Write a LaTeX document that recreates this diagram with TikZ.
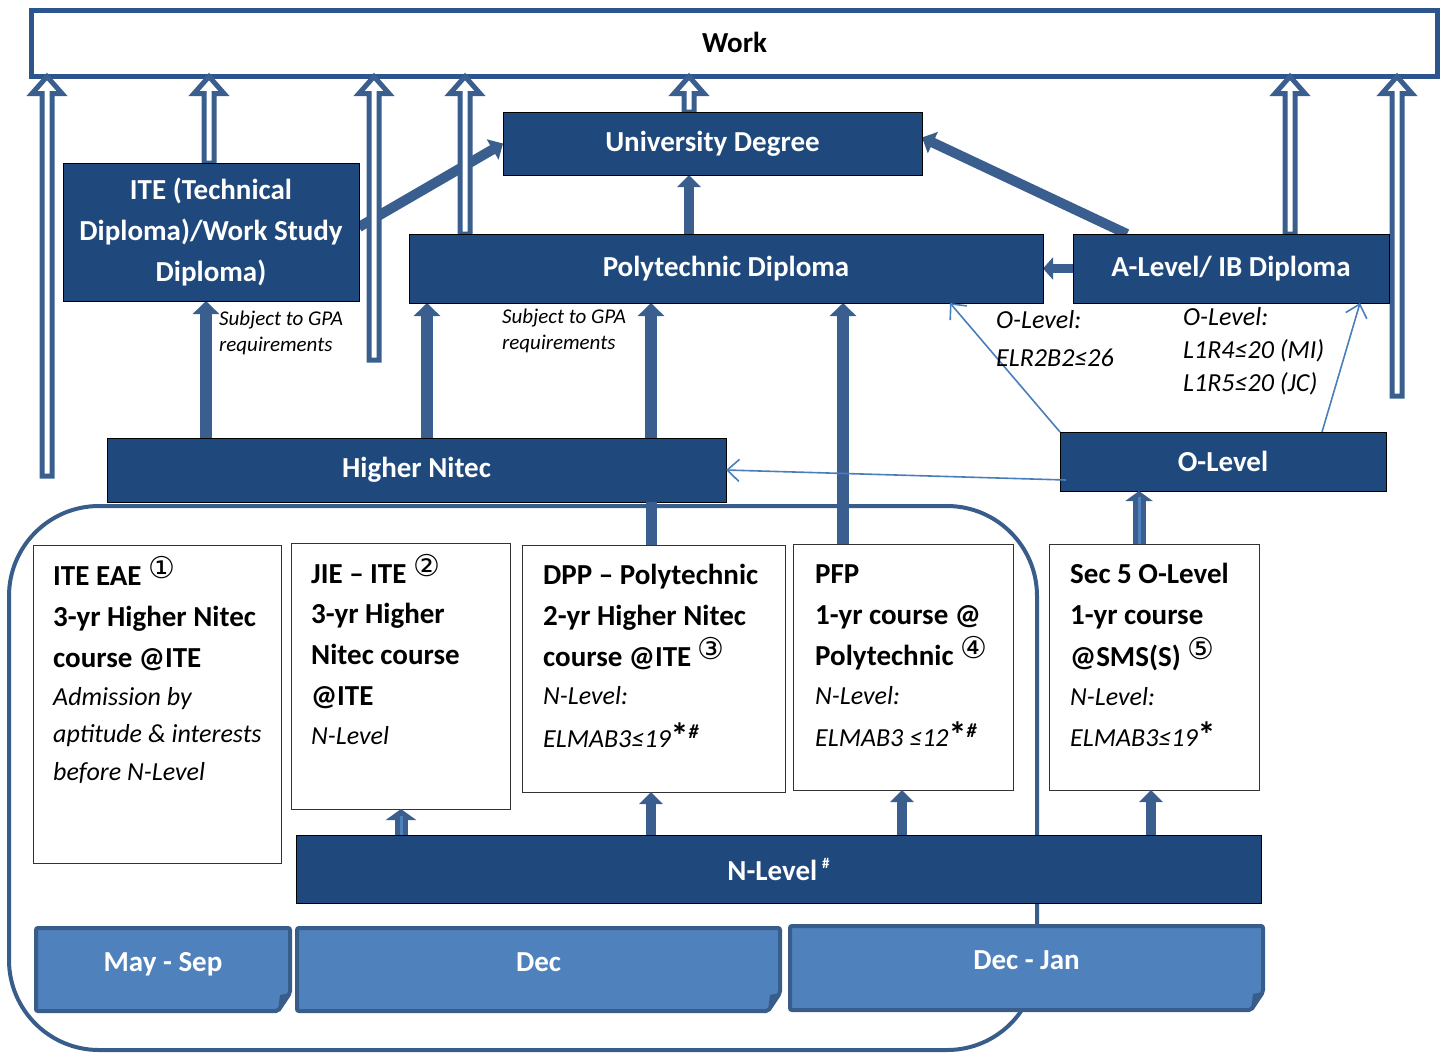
\documentclass[tikz,border=0pt]{standalone}
\usepackage{fontspec}
\setmainfont{Carlito}
\newfontfamily\symfont{DejaVu Sans}
\usetikzlibrary{arrows.meta,calc}
\definecolor{darkb}{HTML}{1F497D}
\definecolor{arrowc}{HTML}{3A5F8F}
\definecolor{tabfill}{HTML}{4F81BD}
\definecolor{tabline}{HTML}{385D8A}
\definecolor{thinc}{HTML}{4A7EBB}
\definecolor{workc}{HTML}{2B558C}
\newcommand\mycirc[1]{\raisebox{7pt}{\normalfont\symfont\fontsize{30}{30}\selectfont #1}}
\newcommand\mystar{\raisebox{-1pt}{\normalfont\bfseries\fontsize{36}{36}\selectfont *}}
\newcommand\mysup[1]{\mystar\raisebox{9pt}{\normalfont\bfseries\itshape\fontsize{20}{20}\selectfont #1}}
\newcommand\hollowarrow[2]{\draw[hollow] let \p1=(#1), \p2=(#2) in
  (\x1-5pt,\y1) -- (\x1-5pt,\y2-17pt) -- (\x1-15pt,\y2-17pt) -- (\x1,\y2) --
  (\x1+15pt,\y2-17pt) -- (\x1+5pt,\y2-17pt) -- (\x1+5pt,\y1) -- cycle;}
\newcommand\tabbox[6]{%
  \draw[tabshape] (#1,#2) -- (#3,#2) -- (#3,#4-18) -- (#3-12,#4) -- (#1,#4) -- cycle;
  \fill[tabline] (#3,#4-18) -- (#3-12,#4) -- (#3-10,#4-16) -- cycle;
  \node[tabtext, anchor=base] (#5) at ({(#1+#3)/2},{#2+43}) {#6};}
\begin{document}
\begin{tikzpicture}[x=1pt,y=-1pt,
  dbox/.style={draw=black, line width=1pt, fill=darkb, text=white,
    font=\bfseries\fontsize{29}{41}\selectfont, inner sep=0pt, outer sep=0pt, align=center},
  wbox/.style={draw=black!80, line width=1pt, fill=white, inner sep=0pt, outer sep=0pt},
  bl/.style={anchor=base west, inner sep=0pt, font=\bfseries\fontsize{29}{35}\selectfont},
  il/.style={anchor=base west, inner sep=0pt, font=\itshape\fontsize{26}{30}\selectfont},
  sl/.style={anchor=base west, inner sep=0pt, font=\itshape\fontsize{21}{25}\selectfont},
  tabtext/.style={text=white, font=\bfseries\fontsize{29}{35}\selectfont, inner sep=0pt},
  bigarrow/.style={draw=arrowc, line width=12pt, -{Triangle[width=26pt,length=13pt]}},
  midarrow/.style={draw=arrowc, line width=10pt, -{Triangle[width=23pt,length=12pt]}},
  hollow/.style={draw=arrowc, line width=5pt, fill=white, line join=miter},
  thinarrow/.style={draw=thinc, line width=1.6pt, -{Straight Barb[length=12pt,width=22pt]}},
  tabshape/.style={draw=tabline, line width=4pt, fill=tabfill, rounded corners=2pt}]
\useasboundingbox (0,0) rectangle (1447,1053);

% rounded region
\draw[line width=4pt, draw=tabline, rounded corners=90pt] (9,506) rectangle (1037,1050);

% work box
\node[draw=workc, line width=5pt, fill=white, minimum width=1406pt, minimum height=66pt,
  inner sep=0pt, outer sep=0pt, font=\bfseries\fontsize{29}{35}\selectfont] (work) at (734.5,43.5) {\raisebox{2pt}{Work}};

% dark boxes
\node[dbox, minimum width=419pt, minimum height=63pt] (univ) at (712.5,143.5) {University Degree};
\node[dbox, minimum width=296pt, minimum height=138pt] (ite) at (211,232) {ITE (Technical\\Diploma)/Work Study\\Diploma)};
\node[dbox, minimum width=634pt, minimum height=69pt] (poly) at (726,268.5) {Polytechnic Diploma};
\node[dbox, minimum width=316pt, minimum height=69pt] (alev) at (1231,268.5) {A-Level/ IB Diploma};
\node[dbox, minimum width=619pt, minimum height=64pt] (hn) at (416.5,470) {Higher Nitec};
\node[dbox, minimum width=326pt, minimum height=59pt] (olev) at (1223,461.5) {O-Level};
\node[dbox, minimum width=965pt, minimum height=68pt] (nlev) at (778.5,869) {N-Level\,\raisebox{12pt}{\fontsize{15}{15}\selectfont\#}};

% white boxes
\node[wbox, minimum width=248pt, minimum height=318pt] (eae) at (157,704) {};
\node[wbox, minimum width=219pt, minimum height=266pt] (jie) at (400.5,676) {};
\node[wbox, minimum width=263pt, minimum height=247pt] (dpp) at (653.5,668.5) {};
\node[wbox, minimum width=220pt, minimum height=246pt] (pfp) at (903,667) {};
\node[wbox, minimum width=210pt, minimum height=246pt] (sec) at (1154,667) {};

% thick arrows
\draw[bigarrow] (206,0 |- hn.north) -- (206,0 |- ite.south);
\draw[bigarrow] (427,0 |- hn.north) -- (427,0 |- poly.south);
\draw[bigarrow] (651,0 |- hn.north) -- (651,0 |- poly.south);
\draw[draw=arrowc, line width=11pt] (651,0 |- dpp.north) -- (651,0 |- hn.south);
\draw[bigarrow] (843,0 |- pfp.north) -- (843,0 |- poly.south);
\draw[midarrow] (689,0 |- poly.north) -- (689,0 |- univ.south);
\draw[midarrow] ($(ite.east)+(0,-5)$) -- (univ.west);
\draw[midarrow] (1127,0 |- alev.north) -- ($(univ.east)+(0,-6)$);
\draw[draw=arrowc, line width=9pt, -{Triangle[width=22pt,length=10pt]}] (alev.west) -- (poly.east);
\draw[draw=arrowc, line width=13pt, -{Triangle[width=27pt,length=10pt]}] (1139,0 |- sec.north) -- (1139,0 |- olev.south);
\draw[draw=tabfill, line width=3pt] (1139,0 |- sec.north) -- ($(1139,0 |- olev.south)+(0,6)$);
\draw[draw=arrowc, line width=13pt, -{Triangle[width=30pt,length=11pt]}] (401,0 |- nlev.north) -- (401,0 |- jie.south);
\draw[draw=tabfill, line width=3pt] (401,0 |- nlev.north) -- ($(401,0 |- jie.south)+(0,7)$);
\draw[midarrow] (651,0 |- nlev.north) -- (651,0 |- dpp.south);
\draw[midarrow] (902,0 |- nlev.north) -- (902,0 |- pfp.south);
\draw[midarrow] (1151,0 |- nlev.north) -- (1151,0 |- sec.south);

% hollow arrows
\hollowarrow{47,476}{47,0 |- work.south}
\hollowarrow{209,0 |- ite.north}{209,0 |- work.south}
\hollowarrow{374,360}{374,0 |- work.south}
\hollowarrow{465,0 |- poly.north}{465,0 |- work.south}
\hollowarrow{689,0 |- univ.north}{689,0 |- work.south}
\hollowarrow{1290,0 |- alev.north}{1290,0 |- work.south}
\hollowarrow{1397,396}{1397,0 |- work.south}

% redraw dark boxes over hollow arrow bases
\node[dbox, minimum width=419pt, minimum height=63pt] (univ2) at (712.5,143.5) {University Degree};
\node[dbox, minimum width=296pt, minimum height=138pt] (ite2) at (211,232) {ITE (Technical\\Diploma)/Work Study\\Diploma)};
\node[dbox, minimum width=634pt, minimum height=69pt] (poly2) at (726,268.5) {Polytechnic Diploma};
\node[dbox, minimum width=316pt, minimum height=69pt] (alev2) at (1231,268.5) {A-Level/ IB Diploma};

% thin arrows
\draw[thinarrow] (olev.north west) -- (950,0 |- poly.south);
\draw[thinarrow] (1322,0 |- olev.north) -- (1360,0 |- alev.south);
\draw[thinarrow] ($(olev.south west)+(6,-11)$) -- (hn.east);

% labels
\node[sl] (g1a) at (219,325) {Subject to GPA};
\node[sl] (g1b) at (219,351) {requirements};
\node[sl] (g2a) at (502,323) {Subject to GPA};
\node[sl] (g2b) at (502,349) {requirements};
\node[il] (o1a) at (996,328) {O-Level:};
\node[il] (o1b) at (996,366) {ELR2B2≤26};
\node[il] (o2a) at (1183,325) {O-Level:};
\node[il] (o2b) at (1183,358) {L1R4≤20 (MI)};
\node[il] (o2c) at (1183,391) {L1R5≤20 (JC)};

% box texts
\node[bl] (e1) at (53,585) {ITE EAE \mycirc{①}};
\node[bl] (e2) at (53,626) {3-yr Higher Nitec};
\node[bl] (e3) at (53,667) {course @ITE};
\node[il] (e4) at (53,705) {Admission by};
\node[il] (e5) at (53,742) {aptitude \& interests};
\node[il] (e6) at (53,780) {before N-Level};

\node[bl] (j1) at (311,583) {JIE – ITE \mycirc{②}};
\node[bl] (j2) at (311,623) {3-yr Higher};
\node[bl] (j3) at (311,664) {Nitec course};
\node[bl] (j4) at (311,705) {@ITE};
\node[il] (j5) at (311,744) {N-Level};

\node[bl] (d1) at (543,584) {DPP – Polytechnic};
\node[bl] (d2) at (543,625) {2-yr Higher Nitec};
\node[bl] (d3) at (543,666) {course @ITE \mycirc{③}};
\node[il] (d4) at (543,704) {N-Level:};
\node[il] (d5) at (543,747) {ELMAB3≤19\mysup{\#}};

\node[bl] (p1) at (815,583) {PFP};
\node[bl] (p2) at (815,624) {1-yr course @};
\node[bl] (p3) at (815,665) {Polytechnic \mycirc{④}};
\node[il] (p4) at (815,704) {N-Level:};
\node[il] (p5) at (815,746) {ELMAB3 ≤12\mysup{\#}};

\node[bl] (s1) at (1070,583) {Sec 5 O-Level};
\node[bl] (s2) at (1070,624) {1-yr course};
\node[bl] (s3) at (1070,666) {@SMS(S) \mycirc{⑤}};
\node[il] (s4) at (1070,705) {N-Level:};
\node[il] (s5) at (1070,746) {ELMAB3≤19\mystar};

% tabs
\tabbox{36}{928}{290}{1011}{tab1}{May - Sep}
\tabbox{297}{928}{780}{1011}{tab2}{Dec}
\tabbox{790}{926}{1263}{1010}{tab3}{Dec - Jan}
\end{tikzpicture}
\end{document}
